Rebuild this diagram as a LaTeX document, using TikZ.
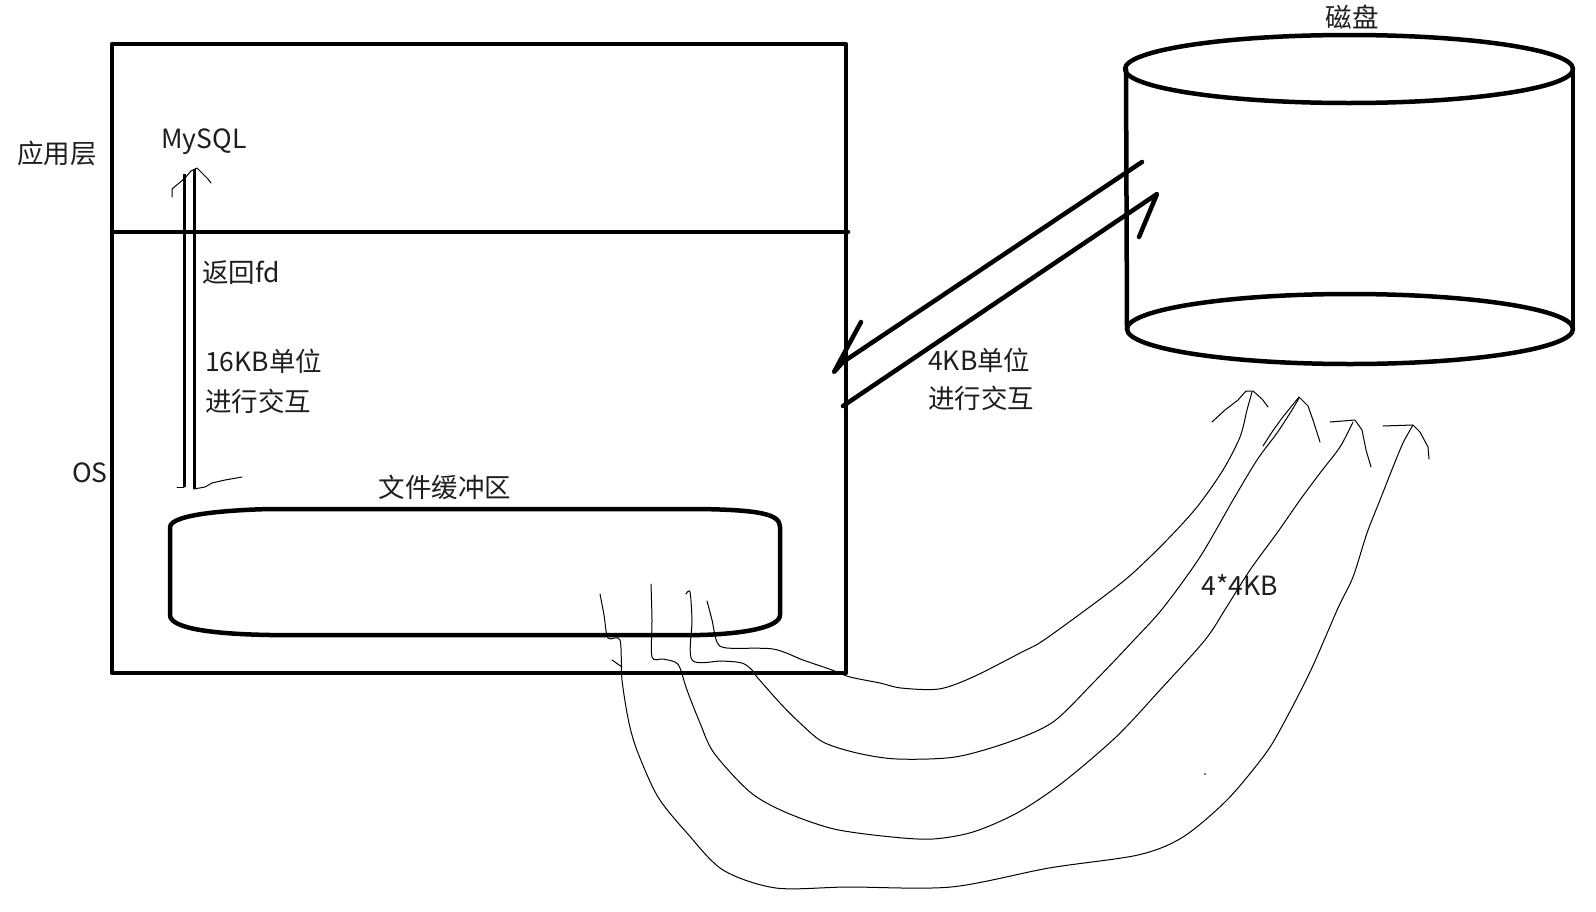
\documentclass[tikz,border=0pt]{standalone}
\usepackage{fontspec}
\newfontfamily\cjk{Noto Sans CJK SC}
\definecolor{txt}{RGB}{30,30,30}
\begin{document}
\begin{tikzpicture}[x=1pt,y=-1pt,
  bold/.style={line width=4.5pt,line cap=round,line join=round},
  mid/.style={line width=3pt},
  hand/.style={line width=1pt,line cap=round,line join=round},
  lbl/.style={font=\cjk\fontsize{26.5}{32}\selectfont,text=txt,inner sep=0pt}]
\useasboundingbox[fill=white] (0,0) rectangle (1596,911);

% main box
\draw[bold] (112,44) rectangle (846,673);
\draw[bold] (112,232) -- (848,232);

% labels
\node[lbl] (app) at (57,153) {应用层};
\node[lbl] (mysql) at (204,142) {MySQL};
\node[lbl] (os) at (90,473) {OS};
\node[lbl,anchor=west] (fd) at (202,273) {返回fd};
\node[lbl,anchor=west] (k16a) at (205,361) {16KB单位};
\node[lbl,anchor=west] (k16b) at (205,401) {进行交互};
\node[lbl] (buf) at (445,487) {文件缓冲区};
\node[lbl] (disk) at (1352,17) {磁盘};
\node[lbl,anchor=west] (k4a) at (928,360) {4KB单位};
\node[lbl,anchor=west] (k4b) at (928,398) {进行交互};
\node[lbl] (k44) at (1240,585) {4*4KB};

% vertical double arrow
\coordinate (vlb) at (184,487);
\coordinate (vlt) at (184,174);
\coordinate (vrb) at (194,489);
\coordinate (vrt) at (194,169);
\draw[mid] (vlb) -- (vlt);
\draw[mid] (vrb) -- (vrt);
\draw[hand] (172,197) -- (172,189) -- (178,184) -- (185,178) -- (191,171) -- (197,168) -- (203,174) -- (208,179) -- (211,183);
\draw[hand] (177,487) -- (vlb);
\draw[hand] (vrb) -- (205,487) -- (212,483) -- (225,480) -- (242,477);

% file buffer
\draw[bold] (170,527) .. controls (171,514) and (230,510) .. (270,509) -- (700,509)
  .. controls (760,510) and (780,514) .. (780,527) -- (780,615)
  .. controls (780,628) and (740,634) .. (700,635) -- (270,635)
  .. controls (210,634) and (170,628) .. (170,615) -- cycle;

% disk cylinder
\draw[bold] (1349,69) ellipse [x radius=224, y radius=34];
\draw[bold] (1350,329) ellipse [x radius=223, y radius=35];
\draw[bold] (1126,69) -- (1127,329);
\draw[bold] (1573,69) -- (1573,329);

% diagonal arrows
\coordinate (dtop) at (1142,162);
\coordinate (dtip) at (834,372);
\coordinate (dlow) at (843,406);
\coordinate (dtip2) at (1157,194);
\draw[bold] (dtop) -- (843,362) -- (dtip) -- (861,322);
\draw[bold] (dlow) -- (dtip2) -- (1139,237);

% hand-drawn curves
\draw[hand] plot[smooth,tension=0.5] coordinates {(707,601) (712,620) (717,642) (727,648) (773,649) (803,660) (832,670) (850,677) (880,683) (901,688) (939,689) (973,677) (1022,652) (1044,640) (1103,597) (1133,573) (1167,540) (1197,507) (1223,470) (1240,437) (1247,410) (1252,392)};
\draw[hand] (1212,422) -- (1225,410) -- (1238,400) -- (1246,391) -- (1253,391) -- (1262,399) -- (1268,407);

\draw[hand] plot[smooth,tension=0.5] coordinates {(686,594) (690,592) (692,620) (692,660) (722,661) (742,663) (752,670) (757,677) (780,703) (800,723) (823,742) (857,753) (897,759) (955,757) (1009,742) (1053,722) (1093,683) (1134,640) (1163,608) (1200,557) (1233,500) (1257,460) (1277,433) (1292,410) (1299,398)};
\draw[hand] (1263,446) -- (1272,432) -- (1282,418) -- (1299,397) -- (1308,406) -- (1313,420) -- (1320,442);

\draw[hand] plot[smooth,tension=0.5] coordinates {(651,584) (652,620) (652,657) (663,659) (675,662) (680,668) (687,690) (700,723) (714,753) (750,792) (785,812) (834,829) (892,837) (933,839) (973,832) (1017,813) (1062,783) (1116,737) (1160,690) (1205,640) (1226,608) (1250,570) (1277,533) (1300,500) (1320,473) (1340,447) (1353,422)};
\draw[hand] (1330,422) -- (1355,420) -- (1362,430) -- (1366,450) -- (1371,467);

\draw[hand] plot[smooth,tension=0.5] coordinates {(600,594) (604,615) (608,638) (620,640) (622,680) (629,723) (638,753) (658,797) (687,833) (723,870) (776,888) (848,887) (951,887) (1049,868) (1138,855) (1183,837) (1227,800) (1263,757) (1280,730) (1310,672) (1338,608) (1353,577) (1367,533) (1380,500) (1393,467) (1403,443) (1413,425)};
\draw[hand] (1383,426) -- (1413,425) -- (1420,432) -- (1428,447) -- (1429,459);
\draw[hand] (612,660) -- (622,667);
\fill (1205,774) circle (0.8);
\end{tikzpicture}
\end{document}
